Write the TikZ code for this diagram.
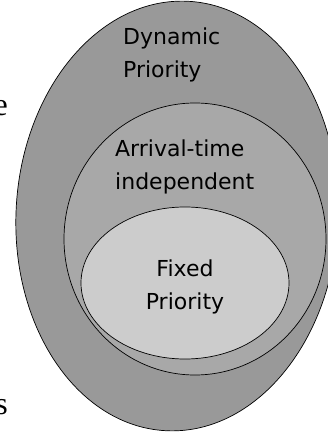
\documentclass[tikz,border=0pt]{standalone}
\usepackage{fontspec}
\setmainfont{DejaVu Sans}
\newfontfamily\serifpart{Liberation Serif}
\definecolor{outerfill}{RGB}{153,153,153}
\definecolor{midfill}{RGB}{168,168,168}
\definecolor{innerfill}{RGB}{204,204,204}
\begin{document}
\begin{tikzpicture}[x=1pt,y=1pt,
  ring/.style={draw=black,line width=0.7pt},
  lbl/.style={inner sep=0pt,font=\fontsize{22}{33}\selectfont},
  frag/.style={inner sep=0pt,font=\serifpart\fontsize{32}{36}\selectfont}]
\useasboundingbox (0,0) rectangle (328,432);
\clip (0,0) rectangle (328,432);
\fill[white] (0,0) rectangle (328,432);
\node[frag,anchor=base east] (fe) at (8,316) {e};
\node[frag,anchor=base east] (fs) at (8,17) {s};
\draw[ring,fill=outerfill,rotate around={-3:(177,216)}] (177,216) ellipse [x radius=161,y radius=215];
\draw[ring,fill=midfill] (195,193) ellipse [x radius=131,y radius=136];
\draw[ring,fill=innerfill] (185,149) ellipse [x radius=104,y radius=76];
\node[lbl,anchor=base west,align=left] (dyn) at (123,354) {Dynamic\\Priority};
\node[lbl,anchor=base west,align=left] (arr) at (115,242) {Arrival-time\\independent};
\node[lbl,anchor=base,align=center] (fix) at (185,122) {Fixed\\Priority};
\end{tikzpicture}
\end{document}
